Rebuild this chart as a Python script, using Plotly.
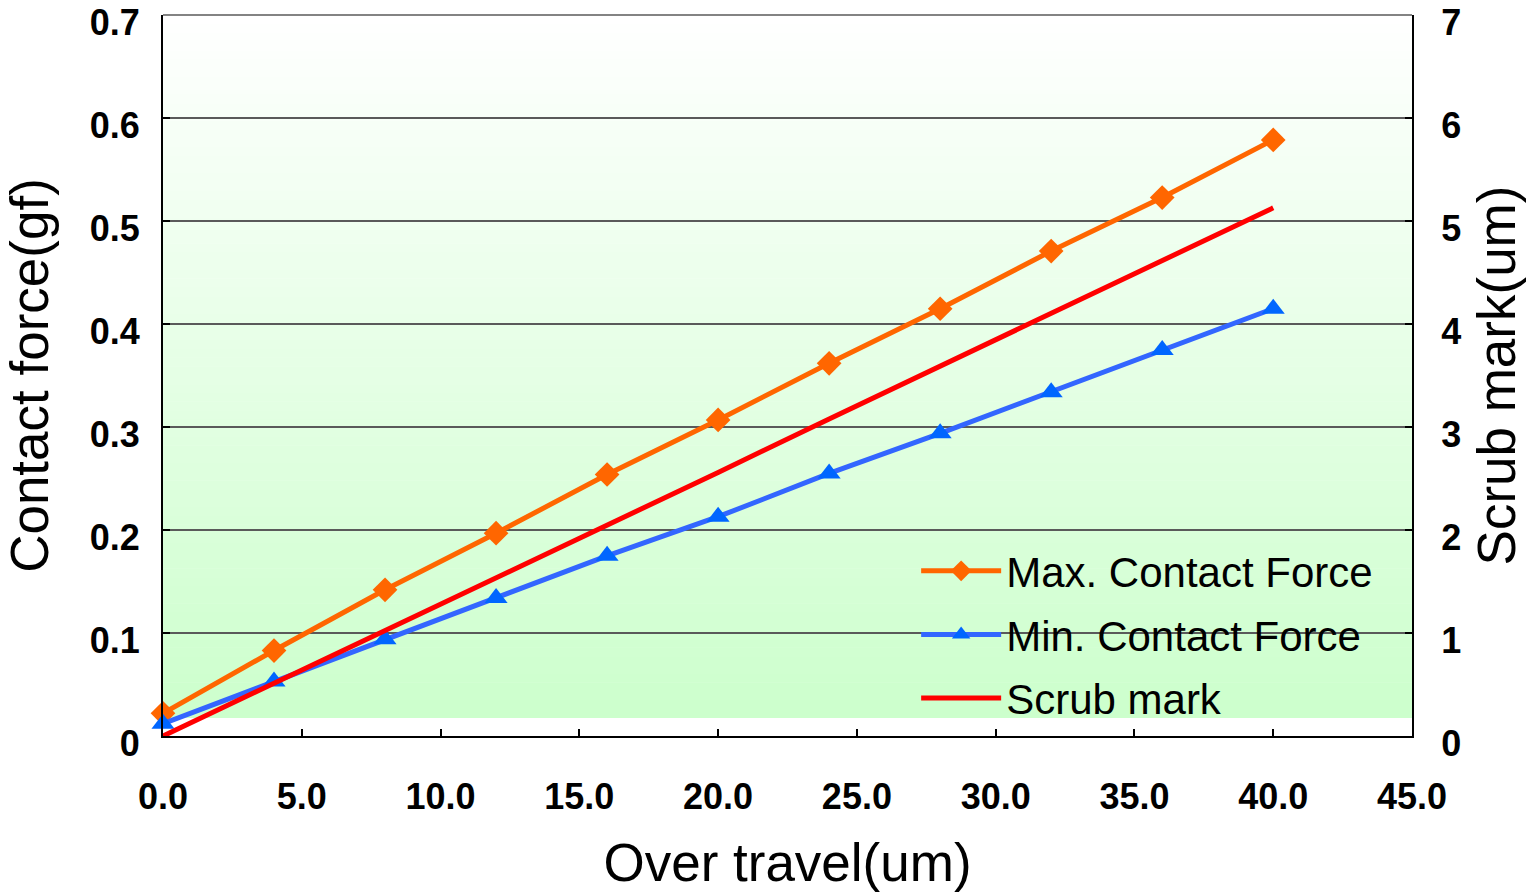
import plotly.graph_objects as go

# Over travel (um)
over_travel = [0, 4, 8, 12, 16, 20, 24, 28, 32, 36, 40]
# Contact force (gf)
max_force = [0.022, 0.083, 0.142, 0.197, 0.254, 0.307, 0.362, 0.415, 0.471, 0.523, 0.579]
min_force = [0.012, 0.053, 0.094, 0.134, 0.175, 0.213, 0.255, 0.294, 0.334, 0.375, 0.415]
# Scrub mark (um)
scrub_mark = [0.0, 0.51, 1.03, 1.54, 2.05, 2.56, 3.08, 3.59, 4.10, 4.62, 5.13]

x_ticks = [0, 5, 10, 15, 20, 25, 30, 35, 40, 45]
x_ticktext = ["0.0", "5.0", "10.0", "15.0", "20.0", "25.0", "30.0", "35.0", "40.0", "45.0"]
y1_ticks = [0, 0.1, 0.2, 0.3, 0.4, 0.5, 0.6, 0.7]
y1_ticktext = ["0", "0.1", "0.2", "0.3", "0.4", "0.5", "0.6", "0.7"]
y2_ticks = [0, 1, 2, 3, 4, 5, 6, 7]
y2_ticktext = ["0", "1", "2", "3", "4", "5", "6", "7"]

FONT = "Liberation Sans, Arial, sans-serif"
TICK_SIZE = 36
TITLE_SIZE = 53
Y1_TOP = 0.7003
Y2_TOP = 7.003

fig = go.Figure()
fig.add_trace(go.Scatter(
    x=over_travel, y=max_force, name="Max. Contact Force", mode="lines+markers",
    line=dict(color="#FF6600", width=5),
    marker=dict(symbol="diamond", size=19, color="#FF6600"),
    cliponaxis=False, legendgroup="a",
))
fig.add_trace(go.Scatter(
    x=over_travel, y=min_force, name="Min. Contact Force", mode="lines+markers",
    line=dict(color="#3366FF", width=5),
    marker=dict(symbol="triangle-up", size=20, color="#0066FF"),
    cliponaxis=False, legendgroup="b",
))
fig.add_trace(go.Scatter(
    x=over_travel, y=scrub_mark, name="Scrub mark", mode="lines",
    line=dict(color="#FF0000", width=5), yaxis="y2",
    cliponaxis=False, legendgroup="c",
))

# Vertical background gradient: white at the top to light green near the bottom
shapes = []
n_bands = 80
y_lo, y_hi = 0.0175, 0.7
for i in range(n_bands):
    t0 = y_lo + (y_hi - y_lo) * i / n_bands
    t1 = y_lo + (y_hi - y_lo) * (i + 1) / n_bands
    f = 1 - (i + 0.5) / n_bands  # 1 at bottom, 0 at top
    r = round(255 - (255 - 204) * f)
    b = round(255 - (255 - 204) * f)
    shapes.append(dict(type="rect", xref="x", yref="y", x0=0, x1=45, y0=t0, y1=t1 + 0.0005,
                       fillcolor=f"rgb({r},255,{b})", line=dict(width=0), layer="below"))
# Gray border along the top of the plot area
shapes.append(dict(type="line", xref="paper", yref="paper", x0=0, x1=1, y0=1, y1=1,
                   line=dict(color="#5a5a5a", width=1.5)))

fig.update_layout(
    width=1538, height=892,
    margin=dict(l=163, r=126, t=15, b=156, autoexpand=False),
    paper_bgcolor="white", plot_bgcolor="white",
    font=dict(family=FONT, color="black"),
    shapes=shapes,
    showlegend=True,
    legend=dict(
        x=0.603, y=0.276, xanchor="left", yanchor="top",
        bgcolor="rgba(0,0,0,0)", font=dict(size=42, family=FONT, color="black"),
        itemwidth=80, tracegroupgap=6,
    ),
    xaxis=dict(
        range=[0, 45], tickvals=x_ticks, ticktext=x_ticktext,
        ticks="inside", ticklen=7, tickcolor="black", tickwidth=1.5,
        showline=True, linecolor="black", linewidth=2,
        showgrid=False, zeroline=False, automargin=False,
        tickfont=dict(size=TICK_SIZE, family=FONT, weight="bold"),
        ticklabelstandoff=28, ticklabeloverflow="allow",
        title=dict(text="Over travel(um)", font=dict(size=TITLE_SIZE, family=FONT), standoff=30),
    ),
    yaxis=dict(
        range=[0, Y1_TOP], tickvals=y1_ticks, ticktext=y1_ticktext,
        ticks="inside", ticklen=7, tickcolor="black", tickwidth=1.5,
        showline=True, linecolor="black", linewidth=2,
        showgrid=True, gridcolor="#5a5a5a", gridwidth=1.5, zeroline=False, automargin=False,
        tickfont=dict(size=TICK_SIZE, family=FONT, weight="bold"),
        ticklabelstandoff=14, ticklabelshift=7, ticklabeloverflow="allow",
        title=dict(text="Contact force(gf)", font=dict(size=TITLE_SIZE, family=FONT), standoff=26),
    ),
    yaxis2=dict(
        range=[0, Y2_TOP], tickvals=y2_ticks, ticktext=y2_ticktext,
        overlaying="y", side="right",
        ticks="inside", ticklen=7, tickcolor="black", tickwidth=1.5,
        showline=True, linecolor="black", linewidth=2,
        showgrid=False, zeroline=False, automargin=False,
        tickfont=dict(size=TICK_SIZE, family=FONT, weight="bold"),
        ticklabelstandoff=20, ticklabelshift=7, ticklabeloverflow="allow",
        title=dict(text="Scrub mark(um)", font=dict(size=TITLE_SIZE, family=FONT), standoff=18),
    ),
)

fig.write_html("out.html")
